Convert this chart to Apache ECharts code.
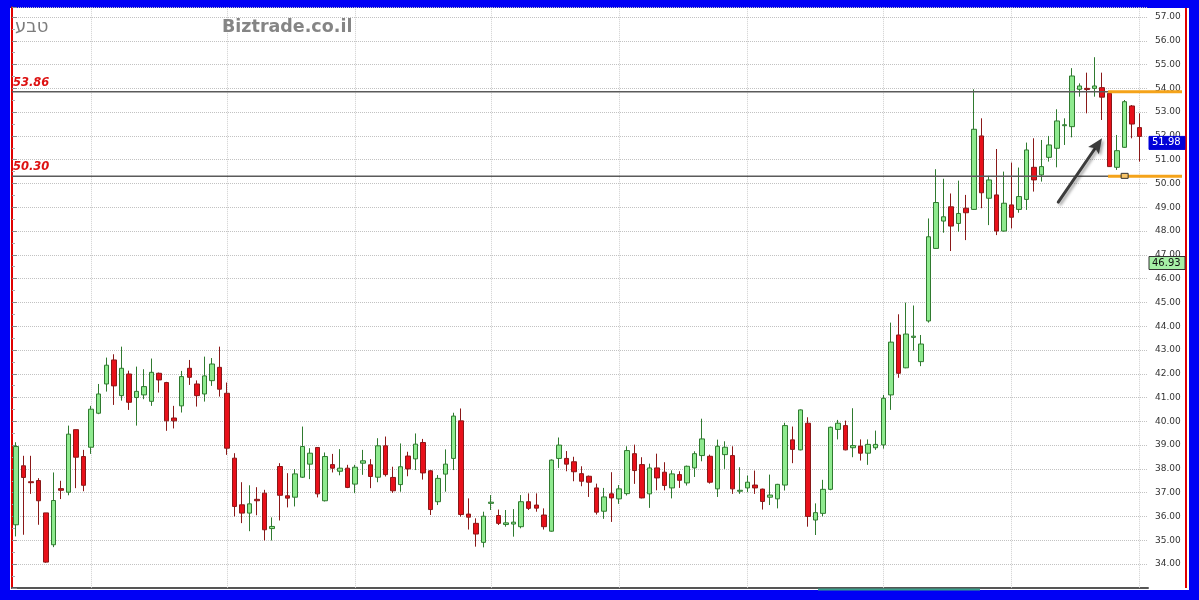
<!DOCTYPE html>
<html><head><meta charset="utf-8">
<script src="https://cdn.jsdelivr.net/npm/echarts@6/dist/echarts.min.js"></script>
<style>
html,body{margin:0;padding:0;background:#0000f5;overflow:hidden;}
#frame{position:absolute;left:10px;top:8px;width:1179px;height:582px;background:#ffffff;}
#chart{position:absolute;left:0;top:0;width:1199px;height:600px;}
</style></head><body>
<div id="frame"></div><div id="chart"></div>
<script>
// ---- data ----
const opens = [
35.65,38.13,37.46,37.51,36.15,34.81,37.17,37.02,39.65,38.52,
38.91,40.34,41.57,42.58,41.08,41.99,41.00,41.11,40.84,42.02,
41.63,40.14,40.65,42.23,41.57,41.15,41.71,42.27,41.18,38.45,
36.49,36.14,36.72,36.98,35.49,38.10,36.87,36.81,37.65,38.20,
38.90,36.66,38.18,37.90,38.03,37.36,38.24,38.17,37.65,38.97,
37.64,37.34,38.54,38.42,39.11,37.92,36.62,37.78,38.44,40.02,
36.10,35.71,34.91,36.55,36.04,35.66,35.68,35.57,36.62,36.48,
36.06,35.38,38.44,38.44,38.30,37.80,37.69,37.20,36.22,36.95,
36.74,36.96,38.64,38.18,36.95,38.04,37.86,37.20,37.76,37.41,
38.04,38.56,38.53,37.16,38.60,38.56,37.06,37.20,37.32,37.15,
36.81,36.74,37.32,39.22,38.80,39.92,35.85,36.13,37.14,39.66,
39.82,38.89,38.96,38.66,38.89,39.01,41.11,43.63,42.25,43.53,
42.51,44.22,47.27,48.42,49.02,48.32,48.96,48.91,52.00,49.38,
49.52,48.00,49.10,48.91,49.33,50.68,50.36,51.10,51.48,52.43,
52.39,53.96,54.00,54.00,54.03,53.79,50.68,51.52,53.26,52.35];
const closes = [
38.94,37.64,37.42,36.66,34.08,36.67,37.10,39.46,38.49,37.31,
40.51,41.15,42.36,41.49,42.23,40.80,41.26,41.46,42.06,41.74,
40.02,40.02,41.88,41.85,41.08,41.91,42.41,41.35,38.87,36.42,
36.14,36.53,36.66,35.44,35.58,36.89,36.77,37.79,38.94,38.66,
36.95,38.52,38.03,38.03,37.22,38.07,38.34,37.68,38.97,37.76,
37.08,38.09,38.00,39.04,37.83,36.29,37.60,38.20,40.22,36.08,
35.97,35.26,36.01,36.60,35.71,35.73,35.76,36.62,36.34,36.35,
35.57,38.37,39.00,38.20,37.88,37.48,37.44,36.18,36.82,36.78,
37.16,38.77,37.93,36.78,38.04,37.62,37.30,37.79,37.52,38.11,
38.64,39.26,37.44,38.95,38.91,37.16,37.10,37.44,37.20,36.63,
36.90,37.35,39.82,38.82,40.48,36.00,36.16,37.14,39.75,39.92,
38.80,38.98,38.66,39.03,39.03,40.97,43.33,42.02,43.67,43.58,
43.25,47.76,49.20,48.60,48.21,48.74,48.77,52.28,49.61,50.15,
48.00,49.17,48.58,49.45,51.41,50.15,50.71,51.62,52.63,52.47,
54.52,54.10,53.95,54.10,53.63,50.71,51.38,53.44,52.50,51.98];
const lows = [
35.16,35.23,36.95,35.65,34.05,34.71,36.73,36.89,37.19,37.06,
38.63,40.30,41.25,40.69,40.87,40.48,39.82,40.93,40.65,41.21,
39.60,39.70,40.37,41.53,40.62,40.83,41.49,41.04,38.59,36.00,
35.72,35.38,36.05,34.99,34.99,35.83,36.38,36.42,37.62,37.57,
36.80,36.63,37.85,37.73,37.19,36.98,37.75,37.19,37.44,37.68,
36.99,37.04,37.69,37.95,37.55,36.06,36.48,37.04,37.95,35.99,
35.45,34.73,34.70,36.27,35.64,35.57,35.15,35.50,36.27,36.20,
35.45,35.36,38.04,37.90,37.48,37.27,36.82,36.08,35.90,35.77,
36.53,36.88,37.37,36.76,36.36,37.10,37.10,36.76,37.20,37.30,
37.66,38.32,37.38,36.82,38.00,36.95,36.95,37.02,36.95,36.29,
36.48,36.34,37.09,38.24,38.78,35.57,35.22,36.00,37.10,39.24,
38.78,38.49,38.35,38.17,38.80,38.85,40.48,41.83,42.23,42.97,
42.32,44.15,47.25,47.93,47.16,47.97,47.62,48.89,48.96,48.25,
47.83,47.98,48.11,48.77,48.89,49.66,50.08,50.92,50.68,51.62,
51.94,53.65,52.95,53.65,52.67,50.70,50.57,51.50,51.90,50.92];
const highs = [
39.12,38.55,38.55,37.61,36.15,37.85,37.50,39.82,39.65,38.80,
40.65,41.57,42.68,42.82,43.14,42.13,42.30,42.19,42.64,42.05,
41.66,40.65,42.12,42.58,41.72,42.72,42.66,43.14,41.63,38.66,
37.44,37.31,37.23,37.12,35.96,38.24,37.82,37.99,39.78,38.87,
38.92,38.69,38.63,38.83,38.17,38.17,38.80,38.41,39.29,39.36,
38.09,39.07,38.72,39.49,39.26,37.95,37.74,38.82,40.36,40.54,
36.76,35.92,36.20,36.90,36.29,36.27,36.31,36.90,36.97,36.97,
36.34,38.40,39.32,38.75,38.51,38.11,37.72,37.38,37.20,37.86,
37.32,38.95,39.02,38.49,38.22,38.64,38.28,37.94,37.90,38.14,
38.74,40.11,38.60,39.23,39.16,38.95,38.07,37.72,37.93,37.17,
37.76,37.37,39.94,39.78,40.50,40.17,36.55,37.54,39.78,40.06,
40.03,40.55,39.24,39.24,39.61,41.11,44.15,44.50,44.99,44.87,
43.63,48.53,50.60,50.20,49.58,50.12,49.52,53.96,52.74,50.32,
51.45,50.50,50.88,50.67,51.72,51.90,51.83,52.00,53.12,52.74,
54.85,54.21,54.66,55.31,54.66,53.80,52.04,53.51,53.30,52.95];
const categories = opens.map((_, i) => String(i + 1));   // trading-day index labels
const monthStarts = [10, 28, 45, 63, 80, 97, 115, 132, 149]; // candles carrying a vertical grid line
const levels = [53.86, 50.30];                                // horizontal support / resistance
const levelLabels = ['53.86', '50.30'];
const bracketFrom = 145;                                      // orange bracket starts at this candle
const boxAt = [147, 50.30];                                   // small marker box
const arrowFrom = [138.2, 49.22], arrowTo = [144.0, 51.90];   // annotation arrow (index, price)
const otherTag = 46.93;
const Y_MIN = 33, Y_MAX = 57.4;

const candleData = opens.map((o, i) => [o, closes[i], lows[i], highs[i]]);

const chart = echarts.init(document.getElementById('chart'), null, {renderer: 'canvas'});
const option = {
  animation: false,
  textStyle: {fontFamily: 'DejaVu Sans'},
  grid: [
    {left: 12, top: 7.5, width: 1131.5, height: 580.3},
    {left: 12, top: 7.5, width: 1136, height: 580.3}
  ],
  xAxis: [
    {type: 'category', gridIndex: 0, data: categories, boundaryGap: true,
     axisLine: {show: false}, axisTick: {show: false}, axisLabel: {show: false}, splitLine: {show: false}},
    {type: 'value', gridIndex: 1, min: 0, max: 1,
     axisLine: {show: true, lineStyle: {color: '#555', width: 2}}, axisTick: {show: false},
     axisLabel: {show: false}, splitLine: {show: false}}
  ],
  yAxis: [
    {type: 'value', gridIndex: 0, min: Y_MIN, max: Y_MAX, position: 'left',
     axisLine: {show: true, lineStyle: {color: '#555', width: 2}}, axisTick: {show: false},
     axisLabel: {show: false}, splitLine: {show: false}},
    {type: 'value', gridIndex: 1, min: Y_MIN, max: Y_MAX, interval: 1, position: 'right',
     axisLine: {show: true, lineStyle: {color: '#e00000', width: 2}},
     axisTick: {show: true, length: 5, lineStyle: {color: '#888'}},
     minorTick: {show: true, splitNumber: 2, length: 3, lineStyle: {color: '#aaa'}},
     axisLabel: {margin: 7, color: '#333', fontSize: 9, fontFamily: 'DejaVu Sans',
                 formatter: v => v.toFixed(2), showMinLabel: false, showMaxLabel: false},
     splitLine: {show: true, lineStyle: {color: '#c2c2c2', type: 'dotted', width: 1}}}
  ],
  series: [{
    type: 'candlestick', xAxisIndex: 0, yAxisIndex: 0, data: candleData, barWidth: 5,
    itemStyle: {color: '#8fea8f', color0: '#e8101a', borderColor: '#2f7a2f', borderColor0: '#8a1818', borderWidth: 1},
    markLine: {
      silent: true, symbol: 'none', z: 1, label: {show: false},
      lineStyle: {color: '#cfcfcf', type: 'dotted', width: 1},
      data: monthStarts.map(i => ({xAxis: categories[i]}))
    }
  }]
};
chart.setOption(option);

// ---- annotations positioned from the chart's own scales ----
const yPx = v => chart.convertToPixel({yAxisIndex: 1}, v);
const x0 = chart.convertToPixel({xAxisIndex: 0}, categories[0]);
const xN = chart.convertToPixel({xAxisIndex: 0}, categories[categories.length - 1]);
const step = (xN - x0) / (categories.length - 1);
const xIdx = i => x0 + i * step;
const plotL = 12, plotR = 12 + 1136, axisR = plotR + 38;

const g = [];
// second red frame line of the price axis
g.push({type: 'rect', shape: {x: axisR - 1, y: 8, width: 2, height: 580}, style: {fill: '#e00000'}, z: 50});
// bottom scroll highlight
g.push({type: 'rect', shape: {x: 818, y: 588.5, width: 162, height: 2}, style: {fill: '#3aa08a'}, z: 50});
// level lines + labels
levels.forEach((lv, k) => {
  const y = yPx(lv);
  g.push({type: 'line', shape: {x1: plotL, y1: y, x2: plotR, y2: y}, style: {stroke: '#5a5a5a', lineWidth: 1.5}, z: 60});
  g.push({type: 'text', x: plotL + 1, y: y - 3, style: {text: levelLabels[k], fill: '#dd1111',
          font: 'italic bold 11.5px "DejaVu Sans"', textAlign: 'left', textVerticalAlign: 'bottom'}, z: 60});
});
// orange bracket
levels.forEach(lv => {
  const y = yPx(lv);
  g.push({type: 'line', shape: {x1: xIdx(bracketFrom) - 1.5, y1: y, x2: axisR - 4, y2: y},
          style: {stroke: '#f5a31a', lineWidth: 3}, z: 70});
});
// marker box
g.push({type: 'rect', shape: {x: xIdx(boxAt[0]) - 3.5, y: yPx(boxAt[1]) - 3, width: 7, height: 5},
        style: {fill: '#f7c56a', stroke: '#333', lineWidth: 1}, z: 75});
// arrow
(function () {
  const sx = xIdx(arrowFrom[0]), sy = yPx(arrowFrom[1]);
  const tx = xIdx(arrowTo[0]), ty = yPx(arrowTo[1]);
  const dx = tx - sx, dy = ty - sy, len = Math.hypot(dx, dy);
  const ux = dx / len, uy = dy / len, px = -uy, py = ux;
  const headL = 15, headW = 6.5;
  const bx = tx - ux * headL, by = ty - uy * headL;
  const shadow = {shadowBlur: 3, shadowOffsetX: 2, shadowOffsetY: 2, shadowColor: 'rgba(0,0,0,0.35)'};
  g.push({type: 'line', shape: {x1: sx, y1: sy, x2: bx + ux * 2, y2: by + uy * 2},
          style: Object.assign({stroke: '#3c3c3c', lineWidth: 3, lineCap: 'round'}, shadow), z: 80});
  g.push({type: 'polygon', shape: {points: [[tx, ty], [bx + px * headW, by + py * headW], [bx + ux * 3, by + uy * 3], [bx - px * headW, by - py * headW]]},
          style: Object.assign({fill: '#3c3c3c'}, shadow), z: 80});
})();
// price tags on the axis
const lastClose = closes[closes.length - 1];
[[lastClose, '#0000d8', '#ffffff', '#0000d8'], [otherTag, '#a6f0a6', '#111111', '#333333']].forEach(t => {
  const y = yPx(t[0]);
  g.push({type: 'rect', shape: {x: plotR + 1, y: y, width: axisR - plotR - 2, height: 13},
          style: {fill: t[1], stroke: t[3], lineWidth: 1}, z: 90});
  g.push({type: 'text', x: plotR + 4, y: y + 6.5, style: {text: t[0].toFixed(2), fill: t[2],
          font: '10px "DejaVu Sans"', textAlign: 'left', textVerticalAlign: 'middle'}, z: 91});
});
// titles
g.push({type: 'text', x: 15, y: 27, style: {text: 'טבע', fill: '#7c7c7c', font: '18px "DejaVu Sans"',
        textAlign: 'left', textVerticalAlign: 'middle'}, z: 95});
g.push({type: 'text', x: 222, y: 27, style: {text: 'Biztrade.co.il', fill: '#858585', font: 'bold 17.5px "DejaVu Sans"',
        textAlign: 'left', textVerticalAlign: 'middle'}, z: 95});

chart.setOption({graphic: {elements: g}});
</script>
</body></html>
